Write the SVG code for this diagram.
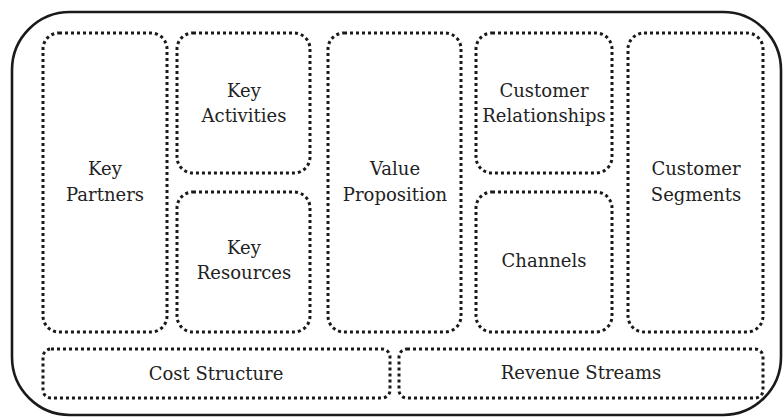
<svg xmlns="http://www.w3.org/2000/svg" width="784" height="417" viewBox="0 0 784 417">
<style>
.box{fill:none;stroke:#1a1a1a;stroke-width:3;stroke-dasharray:3 3;}
.outer{fill:none;stroke:#1a1a1a;stroke-width:2.6;}
.t{font-family:'DejaVu Serif','Liberation Serif',serif;font-size:18px;fill:#222;text-anchor:middle;}
</style>
<rect width="784" height="417" fill="#fff"/>
<g id="canvas"><rect class="outer" x="12" y="12" width="769" height="403" rx="58" ry="58"/></g>
<g id="key-partners"><rect class="box" x="43" y="33" width="124" height="299" rx="16"/><text class="t" x="105" y="175">Key</text><text class="t" x="105" y="201">Partners</text></g>
<g id="key-activities"><rect class="box" x="177" y="33" width="133" height="140" rx="16"/><text class="t" x="244" y="97">Key</text><text class="t" x="244" y="122">Activities</text></g>
<g id="key-resources"><rect class="box" x="177" y="192" width="133" height="140" rx="16"/><text class="t" x="244" y="254">Key</text><text class="t" x="244" y="279">Resources</text></g>
<g id="value-proposition"><rect class="box" x="328" y="33" width="133" height="299" rx="16"/><text class="t" x="395" y="175">Value</text><text class="t" x="395" y="201">Proposition</text></g>
<g id="customer-relationships"><rect class="box" x="476" y="33" width="136" height="140" rx="16"/><text class="t" x="544" y="97">Customer</text><text class="t" x="544" y="122">Relationships</text></g>
<g id="channels"><rect class="box" x="476" y="192" width="136" height="140" rx="16"/><text class="t" x="544" y="267">Channels</text></g>
<g id="customer-segments"><rect class="box" x="628" y="33" width="135" height="299" rx="16"/><text class="t" x="696" y="175">Customer</text><text class="t" x="696" y="201">Segments</text></g>
<g id="cost-structure"><rect class="box" x="43" y="349" width="347" height="49" rx="8"/><text class="t" x="216" y="380">Cost Structure</text></g>
<g id="revenue-streams"><rect class="box" x="399" y="349" width="364" height="49" rx="8"/><text class="t" x="581" y="379">Revenue Streams</text></g>
<g id="connectors"></g>
</svg>
